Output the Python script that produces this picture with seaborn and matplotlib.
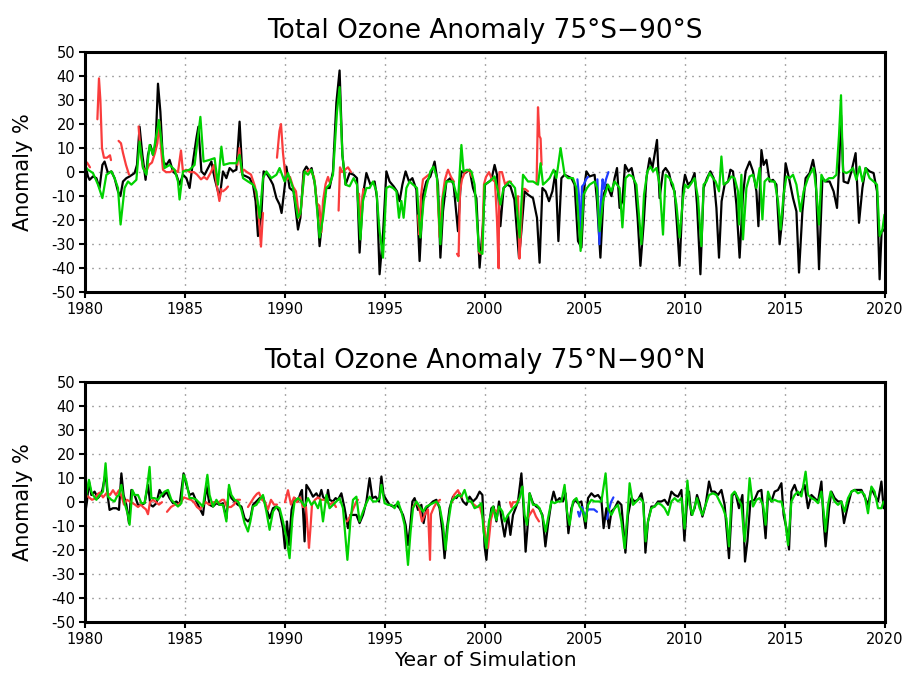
import matplotlib
matplotlib.use("Agg")
import matplotlib.pyplot as plt
import pandas as pd
import seaborn as sns

# ---------------- data (year, anomaly %) ----------------
# 75S-90S : model (black)
sh_black = [
    (1980.00, 3.7), (1980.15, -1.8), (1980.23, -3.2), (1980.40, -1.8), (1980.57, -2.5), (1980.73, -6.6),
    (1980.87, 3.0), (1980.98, 4.4), (1981.15, -0.4), (1981.32, 0.3), (1981.48, -2.5), (1981.65, -8.0),
    (1981.77, -10.0), (1981.90, -3.9), (1982.07, -2.5), (1982.23, -1.8), (1982.48, -0.4), (1982.60, 3.0),
    (1982.73, 18.9), (1982.87, 7.2), (1983.03, -3.2), (1983.15, 7.2), (1983.27, 11.3), (1983.40, 7.2),
    (1983.53, 11.3), (1983.65, 36.8), (1983.77, 25.1), (1983.90, 4.4), (1984.07, 3.0), (1984.23, 5.1),
    (1984.40, 0.3), (1984.57, -1.1), (1984.73, -5.2), (1984.90, -1.1), (1985.07, -2.5), (1985.23, -6.6),
    (1985.40, 4.4), (1985.57, 14.1), (1985.67, 18.9), (1985.82, 0.3), (1985.98, -1.1), (1986.15, 1.7),
    (1986.32, 4.4), (1986.48, -2.5), (1986.65, -8.0), (1986.73, -10.8), (1986.90, 0.3), (1987.07, -2.5),
    (1987.23, 1.7), (1987.40, 0.3), (1987.57, 1.0), (1987.73, 21.0), (1987.87, -1.1), (1988.07, -1.8),
    (1988.23, -2.5), (1988.40, -5.2), (1988.53, -12.1), (1988.65, -26.6), (1988.82, -17.7), (1988.93, 0.3),
    (1989.07, -0.4), (1989.23, -2.5), (1989.40, -5.2), (1989.57, -10.8), (1989.73, -13.5), (1989.83, -17.0),
    (1990.00, -5.0), (1990.07, 2.3), (1990.23, -6.6), (1990.43, -8.0), (1990.65, -23.9), (1990.77, -19.0),
    (1990.93, 0.3), (1991.07, 2.3), (1991.23, 0.3), (1991.33, 1.7), (1991.50, -5.2), (1991.63, -16.0),
    (1991.73, -30.8), (1991.87, -19.0), (1992.03, -6.6), (1992.23, -6.6), (1992.40, 0.3), (1992.57, 29.0),
    (1992.73, 42.3), (1992.87, 7.2), (1993.03, -5.2), (1993.23, -0.4), (1993.43, -1.1), (1993.60, -2.5),
    (1993.73, -33.5), (1993.90, -9.4), (1994.07, -0.4), (1994.27, -5.2), (1994.48, -3.9), (1994.60, -10.8),
    (1994.73, -42.5), (1994.90, -26.0), (1995.07, 0.3), (1995.23, -3.9), (1995.43, -5.9), (1995.60, -8.0),
    (1995.73, -12.1), (1995.87, -5.2), (1996.03, 0.3), (1996.20, -3.9), (1996.37, -2.5), (1996.57, -7.3),
    (1996.73, -37.0), (1996.90, -9.4), (1997.07, -3.9), (1997.27, -1.8), (1997.48, 4.4), (1997.65, -5.2),
    (1997.77, -35.6), (1997.90, -16.3), (1998.07, -3.9), (1998.27, -2.5), (1998.43, -5.2), (1998.65, -24.6),
    (1998.82, 0.3), (1999.00, -0.4), (1999.23, 1.0), (1999.40, -6.6), (1999.57, -10.8), (1999.73, -39.7),
    (1999.90, -21.8), (2000.00, -5.2), (2000.10, -4.6), (2000.32, -3.2), (2000.48, 3.0), (2000.60, -1.1),
    (2000.77, -22.5), (2000.93, -6.6), (2001.10, -5.2), (2001.27, -5.9), (2001.47, -11.4), (2001.70, -35.6),
    (2001.82, -24.6), (2001.98, -8.0), (2002.15, -9.4), (2002.40, -10.8), (2002.60, -19.0), (2002.73, -37.7),
    (2002.87, -6.6), (2003.03, -8.0), (2003.20, -12.1), (2003.37, -8.0), (2003.53, 0.3), (2003.67, -28.7),
    (2003.82, -2.5), (2003.98, -1.1), (2004.15, -1.8), (2004.32, -2.5), (2004.48, -5.2), (2004.65, -28.7),
    (2004.82, -31.4), (2004.98, -5.2), (2005.07, 0.3), (2005.23, -1.8), (2005.48, -1.1), (2005.60, -12.1),
    (2005.77, -35.6), (2005.93, -9.4), (2006.10, -5.2), (2006.32, -10.0), (2006.48, -2.5), (2006.60, 1.7),
    (2006.73, -14.9), (2006.87, -12.1), (2007.00, 3.0), (2007.17, 0.3), (2007.33, 1.7), (2007.50, -5.2),
    (2007.63, -19.0), (2007.77, -39.0), (2007.93, -21.8), (2008.07, -2.5), (2008.23, 5.8), (2008.37, 1.7),
    (2008.48, 7.2), (2008.60, 13.4), (2008.73, -10.8), (2008.90, 0.3), (2009.03, 1.7), (2009.20, -0.4),
    (2009.33, -5.2), (2009.48, -8.0), (2009.62, -24.6), (2009.73, -39.0), (2009.90, -6.6), (2010.00, -1.1),
    (2010.15, -5.2), (2010.32, -3.9), (2010.48, -0.4), (2010.60, -13.5), (2010.77, -42.5), (2010.93, -6.6),
    (2011.10, -2.5), (2011.27, 0.3), (2011.43, -2.5), (2011.57, -14.9), (2011.70, -35.6), (2011.83, -12.1),
    (2011.98, -5.2), (2012.15, -3.9), (2012.27, 1.0), (2012.40, 0.3), (2012.57, -13.5), (2012.73, -35.6),
    (2012.90, -9.4), (2013.03, 0.3), (2013.23, 4.4), (2013.40, 0.3), (2013.57, -8.0), (2013.67, -22.5),
    (2013.82, 9.2), (2013.93, 3.0), (2014.07, 5.1), (2014.23, -3.9), (2014.40, -3.2), (2014.57, -5.2),
    (2014.73, -30.0), (2014.87, -19.0), (2015.03, 3.7), (2015.20, -2.5), (2015.40, -10.8), (2015.57, -16.3),
    (2015.70, -41.8), (2015.87, -16.3), (2016.03, -2.5), (2016.23, -0.4), (2016.40, 5.1), (2016.53, -1.1),
    (2016.70, -40.4), (2016.87, -2.5), (2017.03, -3.9), (2017.23, -3.9), (2017.43, -8.0), (2017.60, -14.9),
    (2017.70, 1.7), (2017.80, 23.7), (2017.93, -3.9), (2018.15, -4.6), (2018.32, 0.3), (2018.53, 7.9),
    (2018.70, -21.1), (2018.87, -6.6), (2019.03, 1.7), (2019.23, 0.3), (2019.43, -0.4), (2019.60, -8.0),
    (2019.73, -44.6), (2019.83, -24.6), (2019.93, -23.9), (2020.00, -25.0),
]

# 75S-90S : second model (green)
sh_green = [
    (1980.00, 2.3), (1980.15, 1.0), (1980.40, -0.4), (1980.65, -5.2), (1980.87, -10.8), (1981.07, -1.1),
    (1981.32, 0.3), (1981.48, -2.5), (1981.65, -6.6), (1981.78, -21.8), (1981.98, -6.6), (1982.15, -3.9),
    (1982.32, -5.2), (1982.57, -3.2), (1982.73, 12.7), (1982.90, 1.7), (1983.07, -1.1), (1983.23, 11.3),
    (1983.40, 7.2), (1983.70, 21.7), (1983.82, 12.7), (1983.98, 1.7), (1984.23, 3.0), (1984.48, 1.0),
    (1984.65, -3.9), (1984.73, -11.4), (1984.90, 0.3), (1985.23, 1.0), (1985.48, 3.0), (1985.77, 23.0),
    (1985.93, 4.4), (1986.23, 5.1), (1986.48, 5.8), (1986.65, -5.2), (1986.82, 10.6), (1986.93, 3.0),
    (1987.23, 3.7), (1987.57, 3.7), (1987.73, 7.2), (1987.90, -2.5), (1988.15, -3.9), (1988.40, -5.2),
    (1988.57, -8.0), (1988.73, -19.0), (1988.90, -2.5), (1989.07, 0.3), (1989.32, -2.5), (1989.57, -1.1),
    (1989.73, 1.7), (1989.98, -3.9), (1990.15, -0.4), (1990.40, -6.6), (1990.65, -19.0), (1990.77, -17.0),
    (1990.98, 0.3), (1991.15, -1.1), (1991.32, 1.0), (1991.48, -3.9), (1991.73, -27.2), (1991.90, -19.0),
    (1992.07, -6.6), (1992.23, -5.2), (1992.40, -1.1), (1992.60, 25.1), (1992.73, 35.4), (1992.87, 7.2),
    (1993.03, -5.2), (1993.23, -5.9), (1993.43, -2.5), (1993.60, -5.2), (1993.77, -28.0), (1993.90, -12.0),
    (1994.07, -6.6), (1994.23, -6.6), (1994.40, -3.9), (1994.57, -8.0), (1994.73, -24.6), (1994.90, -35.6),
    (1995.07, -6.6), (1995.23, -5.9), (1995.40, -6.6), (1995.57, -8.0), (1995.70, -19.0), (1995.82, -12.0),
    (1995.93, -19.0), (1996.07, -6.6), (1996.23, -3.9), (1996.40, -5.2), (1996.60, -6.6), (1996.77, -27.2),
    (1996.93, -12.0), (1997.10, -5.2), (1997.27, 0.3), (1997.43, 2.3), (1997.60, -2.5), (1997.77, -30.0),
    (1997.90, -10.8), (1998.07, -3.9), (1998.23, -3.9), (1998.40, -3.9), (1998.65, -12.0), (1998.82, 11.3),
    (1998.93, 0.3), (1999.10, 1.0), (1999.32, 0.3), (1999.48, -5.2), (1999.70, -32.8), (1999.87, -34.0),
    (1999.98, -5.2), (2000.23, -3.9), (2000.48, -1.8), (2000.65, -8.0), (2000.77, -13.5), (2000.93, -6.6),
    (2001.23, -3.9), (2001.50, -6.6), (2001.73, -27.2), (2001.90, -1.1), (2002.15, -3.9), (2002.40, -3.9),
    (2002.65, -5.2), (2002.78, 3.7), (2002.90, -5.2), (2003.07, -3.9), (2003.23, -2.5), (2003.43, 1.0),
    (2003.57, -2.5), (2003.78, 10.0), (2003.98, -1.1), (2004.15, -2.5), (2004.40, -2.5), (2004.57, -6.6),
    (2004.78, -32.8), (2004.93, -9.4), (2005.10, -6.6), (2005.23, -5.2), (2005.48, -3.9), (2005.60, -6.6),
    (2005.73, -24.6), (2005.90, -12.0), (2006.15, -5.2), (2006.32, -8.0), (2006.48, -3.9), (2006.73, -6.6),
    (2006.87, -23.0), (2007.03, -2.5), (2007.20, -1.1), (2007.37, -1.8), (2007.57, -5.2), (2007.82, -30.0),
    (2007.95, -9.4), (2008.12, 0.3), (2008.27, 2.3), (2008.40, 0.3), (2008.57, 1.7), (2008.73, -5.2),
    (2008.90, -26.0), (2009.03, -1.1), (2009.23, -2.5), (2009.40, -5.2), (2009.57, -13.5), (2009.73, -27.2),
    (2009.90, -10.8), (2010.00, -5.2), (2010.15, -6.6), (2010.32, -4.6), (2010.48, -2.5), (2010.65, -10.8),
    (2010.82, -30.8), (2010.93, -5.2), (2011.07, -3.9), (2011.23, -0.4), (2011.40, -2.5), (2011.53, -3.9),
    (2011.70, -8.0), (2011.82, 6.5), (2011.93, -5.2), (2012.15, -3.9), (2012.32, -1.8), (2012.48, -2.5),
    (2012.65, -8.0), (2012.70, -21.8), (2012.82, -1.1), (2012.90, -28.0), (2013.07, -6.6), (2013.23, -1.8),
    (2013.40, -1.1), (2013.57, -6.6), (2013.73, 1.7), (2013.87, -19.7), (2013.98, -3.9), (2014.15, -2.5),
    (2014.32, -3.9), (2014.48, -3.9), (2014.65, -12.0), (2014.78, -23.9), (2014.93, -9.4), (2015.07, -1.8),
    (2015.23, -2.5), (2015.40, -1.1), (2015.57, -5.2), (2015.77, -16.3), (2015.93, -8.0), (2016.15, -2.5),
    (2016.32, 0.3), (2016.43, 1.7), (2016.57, -8.0), (2016.70, -21.8), (2016.82, -1.1), (2016.98, -3.9),
    (2017.20, -2.5), (2017.40, -2.5), (2017.57, -1.1), (2017.70, 15.4), (2017.80, 32.0), (2017.90, 0.3),
    (2018.07, -0.4), (2018.23, 0.3), (2018.40, 1.7), (2018.57, -3.2), (2018.73, 2.3), (2018.87, -3.9),
    (2019.03, 1.7), (2019.23, -2.5), (2019.43, -3.9), (2019.60, -5.2), (2019.73, -26.6), (2019.87, -23.9),
    (2019.97, -17.7),
]

# 75S-90S : observations (red, blue) - separate segments with gaps
sh_red = [
    [(1980.00, 3), (1980.10, 4), (1980.25, 2)],
    [(1980.62, 22), (1980.70, 39), (1980.77, 30), (1980.85, 10), (1980.95, 6), (1981.10, 6), (1981.25, 7),
     (1981.30, 5)],
    [(1981.68, 13), (1981.80, 12), (1981.90, 8), (1982.05, 3), (1982.20, -1)],
    [(1982.68, 19), (1982.78, 8), (1982.90, 2), (1983.05, 0), (1983.20, 3), (1983.35, 4), (1983.50, 8),
     (1983.62, 12), (1983.72, 21), (1983.80, 10), (1983.90, 1), (1984.05, 0), (1984.25, 0), (1984.45, 1),
     (1984.65, 0), (1984.80, 9), (1984.90, 0), (1985.05, 1), (1985.25, 0), (1985.45, 0), (1985.60, -1),
     (1985.80, -3), (1985.95, -2), (1986.10, -3), (1986.30, 0), (1986.45, 3), (1986.60, -6), (1986.72, -12),
     (1986.82, -7)],
    [(1986.90, -8), (1987.05, -7), (1987.15, -6)],
    [(1987.62, 3), (1987.72, 10), (1987.82, 0), (1987.95, 1), (1988.10, 0), (1988.30, -1), (1988.50, -6),
     (1988.65, -14), (1988.80, -31), (1988.90, -17)],
    [(1989.60, 6), (1989.72, 17), (1989.80, 20), (1989.90, 8), (1990.00, 0), (1990.10, -3), (1990.25, -2),
     (1990.40, -6), (1990.55, -8), (1990.70, -19), (1990.80, -15), (1990.95, -1), (1991.05, 0), (1991.25, 1),
     (1991.45, -2), (1991.60, -13), (1991.72, -14), (1991.82, -25), (1991.90, -12), (1992.03, -5),
     (1992.15, -2), (1992.22, -4)],
    [(1992.68, -16), (1992.75, 2), (1992.85, 0), (1993.00, 1), (1993.15, 2), (1993.30, 0)],
    [(1993.70, -9), (1993.77, -25), (1993.85, -12), (1993.92, -7)],
    [(1996.65, -18), (1996.72, -26), (1996.80, -10), (1996.90, -3), (1997.05, -2), (1997.20, -1)],
    [(1997.60, -3), (1997.73, -27), (1997.85, -12), (1998.00, -3), (1998.15, 1), (1998.30, -2),
     (1998.45, -4)],
    [(1998.60, -34), (1998.68, -35), (1998.75, -8), (1998.85, -3), (1999.00, 0), (1999.20, 1),
     (1999.35, -2)],
    [(1999.68, -33), (1999.75, -34), (1999.85, -33), (1999.95, -5), (2000.05, -2), (2000.20, 0),
     (2000.35, -3), (2000.50, -4), (2000.60, -20), (2000.68, -40), (2000.72, 0), (2000.85, 0), (2001.00, -5),
     (2001.15, -4), (2001.30, -4)],
    [(2001.65, -10), (2001.72, -36), (2001.78, -28), (2001.88, -7), (2002.00, -7), (2002.15, -8)],
    [(2002.58, -5), (2002.65, 27), (2002.72, 15), (2002.78, 14), (2002.83, 3)],
]
sh_blue = [
    [(2004.62, -3), (2004.70, -10), (2004.78, -30), (2004.85, -6), (2004.95, -5), (2005.05, -3),
     (2005.15, -2)],
    [(2005.62, -3), (2005.72, -30), (2005.80, -12), (2005.88, -3), (2005.95, -7), (2006.05, -3),
     (2006.17, 0)],
]

# 75N-90N : model (black)
nh_black = [
    (1980.00, -5.3), (1980.10, 0.3), (1980.20, 8.6), (1980.32, 3.0), (1980.48, 4.4), (1980.65, 1.7),
    (1980.77, 3.0), (1980.87, 5.1), (1981.03, 12.0), (1981.15, 1.7), (1981.23, -3.2), (1981.40, -2.5),
    (1981.57, -2.5), (1981.70, -3.2), (1981.82, 12.0), (1981.93, 3.0), (1982.07, -1.1), (1982.20, -8.7),
    (1982.32, 5.1), (1982.48, 3.0), (1982.65, -1.1), (1982.82, -1.1), (1982.98, -0.4), (1983.15, 7.2),
    (1983.27, -1.1), (1983.40, -1.8), (1983.57, -0.4), (1983.73, 5.1), (1983.90, 2.3), (1984.07, 4.4),
    (1984.23, 1.7), (1984.40, -0.4), (1984.57, 0.3), (1984.73, -1.1), (1984.93, 12.0), (1985.07, 7.2),
    (1985.23, 3.0), (1985.40, 3.7), (1985.57, 0.3), (1985.73, -2.5), (1985.90, -5.3), (1986.07, 7.0),
    (1986.23, -1.1), (1986.40, -1.8), (1986.57, -0.4), (1986.73, -1.1), (1986.90, -0.4), (1987.07, -6.7),
    (1987.20, 5.8), (1987.32, 1.7), (1987.48, 0.3), (1987.65, -1.1), (1987.82, -1.8), (1987.98, -6.7),
    (1988.15, -8.0), (1988.27, -6.7), (1988.40, -1.1), (1988.57, 0.3), (1988.73, 1.7), (1988.90, 2.3),
    (1989.07, -2.5), (1989.23, -6.7), (1989.40, -2.5), (1989.57, -1.8), (1989.73, -3.9), (1989.90, -10.8),
    (1990.00, -19.2), (1990.10, -8.0), (1990.20, -17.8), (1990.33, -3.2), (1990.48, 1.7), (1990.65, 0.3),
    (1990.77, 3.7), (1990.85, 5.1), (1990.98, -16.3), (1991.07, 7.2), (1991.23, 5.1), (1991.40, 2.3),
    (1991.57, 3.7), (1991.70, 1.7), (1991.82, 5.1), (1991.90, 2.3), (1992.07, 0.3), (1992.15, 5.1),
    (1992.23, 1.0), (1992.40, 0.3), (1992.53, 1.7), (1992.65, 1.0), (1992.82, 3.7), (1992.98, -2.5),
    (1993.15, -10.8), (1993.27, -5.3), (1993.40, -5.3), (1993.57, -5.3), (1993.73, -8.7), (1993.90, -5.3),
    (1994.07, 0.3), (1994.23, 10.0), (1994.37, 1.7), (1994.53, 2.3), (1994.70, 0.3), (1994.82, 10.7),
    (1994.93, 3.0), (1995.07, 1.0), (1995.23, -1.1), (1995.40, -1.8), (1995.57, -1.1), (1995.73, -2.5),
    (1995.90, -5.3), (1996.03, -9.4), (1996.15, -17.8), (1996.27, -9.4), (1996.37, 0.3), (1996.48, 1.7),
    (1996.65, -3.2), (1996.82, -1.1), (1996.93, -8.7), (1997.07, -2.5), (1997.23, -1.1), (1997.40, 0.3),
    (1997.57, 1.0), (1997.73, -2.5), (1997.87, -12.0), (1997.98, -23.3), (1998.10, -10.8), (1998.23, -2.5),
    (1998.40, 2.3), (1998.57, 1.7), (1998.73, 3.7), (1998.90, 0.3), (1999.07, -1.1), (1999.23, 2.3),
    (1999.40, 0.3), (1999.57, 1.7), (1999.73, 4.4), (1999.87, 3.0), (1999.98, -18.4), (2000.07, -24.0),
    (2000.20, -10.0), (2000.32, -2.5), (2000.43, -1.8), (2000.57, -8.0), (2000.70, 0.3), (2000.82, -6.7),
    (2000.98, -14.3), (2001.15, -5.3), (2001.27, -13.6), (2001.40, -5.3), (2001.53, -2.5), (2001.65, 0.3),
    (2001.82, 12.0), (2001.93, -2.5), (2002.03, -20.6), (2002.15, -8.0), (2002.23, 3.7), (2002.40, -0.4),
    (2002.57, -1.8), (2002.70, -2.5), (2002.87, -5.3), (2003.02, -18.4), (2003.15, -9.4), (2003.32, 0.3),
    (2003.43, 4.4), (2003.57, 0.3), (2003.73, 1.7), (2003.90, 0.3), (2004.03, 3.7), (2004.17, -12.9),
    (2004.32, -2.5), (2004.48, 1.0), (2004.65, -0.4), (2004.82, 0.3), (2005.03, -10.8), (2005.15, 1.7),
    (2005.32, 3.7), (2005.48, 2.3), (2005.65, 3.0), (2005.82, 1.0), (2005.93, -10.8), (2006.07, -2.5),
    (2006.20, -10.8), (2006.32, -3.9), (2006.48, -2.5), (2006.65, 0.3), (2006.82, -1.1), (2007.02, -21.0),
    (2007.15, -5.3), (2007.32, 1.7), (2007.48, 0.3), (2007.65, 1.0), (2007.82, 3.7), (2007.93, -1.1),
    (2008.02, -21.0), (2008.15, -8.0), (2008.32, -1.8), (2008.48, -1.8), (2008.65, 0.3), (2008.82, 0.3),
    (2008.98, 1.0), (2009.15, -1.1), (2009.32, 4.4), (2009.48, 3.0), (2009.65, 2.3), (2009.82, 5.1),
    (2009.97, -16.0), (2010.10, 0.3), (2010.20, 4.4), (2010.32, -5.3), (2010.48, -2.5), (2010.60, 3.0),
    (2010.73, -0.4), (2010.87, -6.0), (2011.03, -1.1), (2011.20, 8.6), (2011.32, 4.4), (2011.48, 4.4),
    (2011.65, 3.0), (2011.82, 5.1), (2011.98, -1.1), (2012.20, -23.3), (2012.37, 3.0), (2012.53, 3.7),
    (2012.70, -2.5), (2012.87, 3.0), (2013.00, -24.7), (2013.12, -16.3), (2013.27, 0.3), (2013.48, 1.0),
    (2013.65, 4.4), (2013.82, 5.1), (2014.03, -15.0), (2014.15, 3.0), (2014.32, 0.3), (2014.48, 4.4),
    (2014.65, 5.1), (2014.82, 7.9), (2014.93, -5.3), (2015.07, -10.8), (2015.20, -19.7), (2015.32, 4.4),
    (2015.48, 7.2), (2015.65, 3.0), (2015.82, 4.4), (2015.98, 7.2), (2016.15, -2.5), (2016.32, 3.0),
    (2016.48, 1.7), (2016.65, 0.3), (2016.82, 8.6), (2016.93, -8.0), (2017.03, -18.4), (2017.20, -2.5),
    (2017.32, 4.4), (2017.48, 1.7), (2017.65, 0.3), (2017.82, 0.3), (2017.95, -8.7), (2018.15, -1.1),
    (2018.32, 4.4), (2018.48, 5.1), (2018.65, 5.1), (2018.82, 5.1), (2018.98, 2.3), (2019.15, -1.1),
    (2019.32, 5.8), (2019.48, 3.0), (2019.65, 0.3), (2019.82, 8.6), (2019.93, -2.5),
]

# 75N-90N : second model (green)
nh_green = [
    (1980.00, -0.4), (1980.10, 4.4), (1980.20, 9.3), (1980.32, 4.4), (1980.40, 3.0), (1980.57, 1.0),
    (1980.73, 3.0), (1980.90, 4.4), (1981.03, 16.2), (1981.15, 2.4), (1981.32, 1.0), (1981.48, 0.3),
    (1981.60, 2.4), (1981.70, 3.0), (1981.82, 7.2), (1981.98, -0.4), (1982.15, -5.3), (1982.23, -9.4),
    (1982.37, 5.1), (1982.48, 3.0), (1982.65, 3.0), (1982.82, -0.4), (1982.98, -0.4), (1983.12, 7.2),
    (1983.23, 14.7), (1983.32, 1.7), (1983.48, 1.7), (1983.65, 1.0), (1983.82, 3.0), (1983.98, 4.4),
    (1984.15, 5.1), (1984.32, 1.0), (1984.48, -0.4), (1984.65, -1.8), (1984.82, -0.4), (1984.93, 11.4),
    (1985.07, 8.6), (1985.23, 1.7), (1985.40, 1.7), (1985.57, 1.0), (1985.73, -0.4), (1985.90, -1.8),
    (1986.12, 11.4), (1986.23, 3.0), (1986.40, -1.8), (1986.57, 1.0), (1986.73, -1.1), (1986.90, -1.1),
    (1987.07, -8.0), (1987.20, 7.2), (1987.32, 3.0), (1987.48, 1.0), (1987.65, 0.3), (1987.82, -3.2),
    (1987.98, -8.7), (1988.15, -12.2), (1988.27, -8.0), (1988.40, -1.8), (1988.57, -1.1), (1988.73, 1.0),
    (1988.90, 3.0), (1989.07, -3.9), (1989.23, -11.5), (1989.40, -3.9), (1989.57, -1.8), (1989.73, -2.5),
    (1989.90, -8.0), (1990.05, -14.0), (1990.23, -23.3), (1990.37, -6.7), (1990.48, 0.3), (1990.65, 1.7),
    (1990.82, 0.3), (1990.98, -1.8), (1991.15, 1.7), (1991.32, -1.1), (1991.48, 0.3), (1991.65, -2.5),
    (1991.77, 1.0), (1991.90, -8.0), (1992.07, 3.0), (1992.23, -2.5), (1992.40, -1.1), (1992.57, 0.3),
    (1992.73, 1.7), (1992.90, -2.5), (1993.12, -24.0), (1993.27, -8.0), (1993.40, 1.0), (1993.57, 2.3),
    (1993.73, -8.0), (1993.90, -3.9), (1994.07, -0.4), (1994.23, 2.3), (1994.40, 0.3), (1994.57, 0.3),
    (1994.73, 1.7), (1994.82, 7.2), (1994.98, -0.4), (1995.15, -1.1), (1995.32, -1.1), (1995.48, -2.5),
    (1995.65, 0.3), (1995.82, -3.9), (1995.98, -9.4), (1996.15, -26.1), (1996.28, -12.2), (1996.40, -2.5),
    (1996.57, 0.3), (1996.73, -1.8), (1996.90, -3.9), (1997.07, -1.8), (1997.23, -1.1), (1997.40, -0.4),
    (1997.57, 0.3), (1997.73, -1.8), (1997.90, -9.4), (1998.03, -19.7), (1998.15, -9.4), (1998.32, 0.3),
    (1998.48, 1.7), (1998.65, 3.0), (1998.82, 2.3), (1998.98, 5.1), (1999.15, 0.3), (1999.32, 0.3),
    (1999.48, -2.5), (1999.65, -1.8), (1999.82, -0.4), (1999.93, -12.2), (2000.07, -19.2), (2000.20, -8.0),
    (2000.40, -1.8), (2000.57, -7.4), (2000.70, -1.8), (2000.87, -3.9), (2000.98, -8.0), (2001.15, -5.3),
    (2001.40, -2.5), (2001.57, -1.1), (2001.73, 1.7), (2001.87, 6.5), (2001.98, -5.3), (2002.10, -9.4),
    (2002.23, 3.7), (2002.40, -1.1), (2002.57, -1.1), (2002.73, -2.5), (2002.90, -6.7), (2003.03, -12.2),
    (2003.15, -6.7), (2003.32, 0.3), (2003.48, -0.4), (2003.65, 0.3), (2003.82, 0.3), (2003.98, 7.2),
    (2004.10, -3.9), (2004.23, -9.4), (2004.40, 0.3), (2004.57, 1.7), (2004.73, -1.8), (2004.90, -3.9),
    (2005.03, -8.0), (2005.15, -1.1), (2005.32, 1.0), (2005.48, 0.3), (2005.65, 0.3), (2005.82, 0.3),
    (2006.03, 12.0), (2006.15, -2.5), (2006.32, -5.3), (2006.48, -2.5), (2006.65, -1.1), (2006.82, -8.0),
    (2006.98, -19.2), (2007.15, -2.5), (2007.23, 7.9), (2007.40, -1.1), (2007.57, 0.3), (2007.73, 1.7),
    (2007.90, 0.3), (2008.03, -16.3), (2008.15, -8.0), (2008.32, -2.5), (2008.48, -1.8), (2008.65, -0.4),
    (2008.82, -1.1), (2008.98, -2.5), (2009.15, -5.3), (2009.32, 0.3), (2009.48, 1.7), (2009.65, 0.3),
    (2009.82, 1.7), (2009.98, -11.0), (2010.12, 9.0), (2010.23, -1.1), (2010.37, -5.3), (2010.48, -1.8),
    (2010.60, 1.7), (2010.73, -2.5), (2010.87, -5.3), (2011.03, -1.1), (2011.20, 3.0), (2011.40, 3.7),
    (2011.57, 3.0), (2011.73, 0.3), (2011.90, -2.5), (2012.07, -6.7), (2012.20, -18.4), (2012.33, 3.0),
    (2012.48, 4.4), (2012.65, 1.7), (2012.82, -1.1), (2012.98, -16.3), (2013.12, -3.2), (2013.23, 10.0),
    (2013.40, -1.8), (2013.57, 1.0), (2013.73, 1.7), (2013.90, -1.1), (2014.03, -9.4), (2014.15, 4.4),
    (2014.32, 0.3), (2014.48, 1.0), (2014.65, 0.3), (2014.82, 0.3), (2014.98, -5.3), (2015.15, -17.8),
    (2015.32, 0.3), (2015.48, 3.0), (2015.65, 4.4), (2015.82, 2.4), (2016.03, 12.7), (2016.15, 3.0),
    (2016.32, 1.7), (2016.48, 1.0), (2016.65, -0.4), (2016.82, 4.4), (2016.93, -3.9), (2017.02, -12.2),
    (2017.15, -1.1), (2017.28, 4.4), (2017.48, 0.3), (2017.65, -1.1), (2017.82, 0.3), (2017.98, -3.9),
    (2018.15, 1.7), (2018.32, 4.4), (2018.48, 5.1), (2018.65, 3.7), (2018.82, 4.4), (2018.98, 3.0),
    (2019.15, -4.6), (2019.32, 6.5), (2019.48, 4.4), (2019.65, -2.5), (2019.82, -2.5), (2019.93, 0.3),
]

# 75N-90N : observations (red, blue)
nh_red = [
    [(1980.05, 3), (1980.20, 2), (1980.35, 1), (1980.50, 1.5), (1980.65, 3.5), (1980.75, 4), (1980.90, 2),
     (1981.10, 4), (1981.25, 3), (1981.40, 5), (1981.55, 3), (1981.70, 5), (1981.85, 2), (1981.95, -1),
     (1982.10, 1), (1982.30, 0), (1982.50, -1), (1982.65, -2), (1982.80, -1), (1982.90, -2), (1983.05, -3),
     (1983.15, -5), (1983.25, 0), (1983.40, 1), (1983.55, 0), (1983.70, -1), (1983.85, 0)],
    [(1984.10, -4), (1984.30, -2), (1984.50, -1), (1984.65, -1), (1984.80, 0), (1984.95, 2), (1985.10, 1.5),
     (1985.30, 1), (1985.45, 0), (1985.60, -2), (1985.75, -3), (1985.90, -1), (1986.05, 0), (1986.20, -1),
     (1986.40, 0), (1986.55, 0), (1986.70, 0), (1986.85, 1), (1986.95, 1), (1987.10, -2), (1987.30, -2),
     (1987.45, -1), (1987.60, 1), (1987.75, 1)],
    [(1988.15, -2), (1988.30, 0), (1988.45, 2), (1988.60, 3.5), (1988.70, 4), (1988.85, 1), (1989.00, 0),
     (1989.15, -3), (1989.30, 1), (1989.45, -1), (1989.60, -1)],
    [(1990.00, 0), (1990.15, 5), (1990.30, -1), (1990.45, 2), (1990.60, 0), (1990.75, 2), (1990.90, -2),
     (1991.05, -2), (1991.15, -13), (1991.20, -19), (1991.28, -10), (1991.35, -1), (1991.50, 1),
     (1991.65, 2), (1991.80, 1), (1992.00, 1), (1992.25, -1), (1992.40, 0), (1992.55, -2)],
    [(1993.10, -8), (1993.25, -6), (1993.40, -3), (1993.55, 0), (1993.65, 1)],
    [(1996.40, -2), (1996.55, 0), (1996.70, -2), (1996.85, -8), (1997.00, -5), (1997.15, -3), (1997.25, -24),
     (1997.30, -5), (1997.45, -2), (1997.60, 0), (1997.75, 1)],
    [(1998.35, 0), (1998.45, 3), (1998.55, 4), (1998.65, 5), (1998.75, 3), (1998.85, 2)],
    [(1999.30, 0), (1999.45, -1), (1999.60, -2), (1999.75, -2), (1999.90, -7), (2000.05, -15),
     (2000.15, -19), (2000.30, -7), (2000.45, -3), (2000.60, -4), (2000.70, -2)],
    [(2001.25, 0), (2001.32, -2), (2001.40, 0), (2001.55, 0), (2001.70, 1)],
    [(2002.10, -7), (2002.25, -5), (2002.40, -3), (2002.55, -6), (2002.70, -8)],
]
nh_blue = [
    [(2004.65, -4), (2004.72, -6), (2004.85, -2), (2005.00, -6), (2005.15, -3), (2005.30, -3),
     (2005.45, -3), (2005.60, -4)],
    [(2006.10, -7), (2006.20, -3), (2006.30, 0), (2006.42, 2)],
]

titles = ["Total Ozone Anomaly 75\u00b0S\u221290\u00b0S", "Total Ozone Anomaly 75\u00b0N\u221290\u00b0N"]
year_ticks = [1980, 1985, 1990, 1995, 2000, 2005, 2010, 2015, 2020]
anom_ticks = [-50, -40, -30, -20, -10, 0, 10, 20, 30, 40, 50]

C_BLACK = "#000000"
C_GREEN = "#00d200"
C_RED = "#fa3c3c"
C_BLUE = "#1e3cff"


def series_frame(pairs):
    return pd.DataFrame(pairs, columns=["year", "anom"])


def segment_frame(segments):
    rows = [(i, y, v) for i, seg in enumerate(segments) for (y, v) in seg]
    return pd.DataFrame(rows, columns=["seg", "year", "anom"])


sns.set_theme(style="white")
plt.rcParams["font.family"] = ["DejaVu Sans"]

fig = plt.figure(figsize=(9.04, 6.75), dpi=100)
ax_top = fig.add_axes([0.094, 0.567, 0.885, 0.356])
ax_bot = fig.add_axes([0.094, 0.078, 0.885, 0.356])

panels = [
    (ax_top, sh_black, sh_green, sh_red, sh_blue, titles[0]),
    (ax_bot, nh_black, nh_green, nh_red, nh_blue, titles[1]),
]

for ax, blk, grn, red, blu, title in panels:
    sns.lineplot(data=series_frame(blk), x="year", y="anom", color=C_BLACK, lw=1.6,
                 estimator=None, sort=False, ax=ax, zorder=3)
    sns.lineplot(data=segment_frame(red), x="year", y="anom", units="seg", color=C_RED, lw=1.6,
                 estimator=None, sort=False, ax=ax, zorder=4)
    sns.lineplot(data=segment_frame(blu), x="year", y="anom", units="seg", color=C_BLUE, lw=1.6,
                 estimator=None, sort=False, ax=ax, zorder=4)
    sns.lineplot(data=series_frame(grn), x="year", y="anom", color=C_GREEN, lw=1.6,
                 estimator=None, sort=False, ax=ax, zorder=5)

    ax.set_xlim(1980, 2020)
    ax.set_ylim(-50, 50)
    ax.set_xticks(year_ticks)
    ax.set_yticks(anom_ticks)
    ax.set_xticklabels([str(t) for t in year_ticks], fontsize=10.5)
    ax.set_yticklabels([str(t) for t in anom_ticks], fontsize=10.5)
    ax.grid(True, color="#999999", linestyle=(0, (1.2, 3.6)), linewidth=1.0, zorder=0)
    ax.set_axisbelow(True)
    for sp in ax.spines.values():
        sp.set_visible(True)
        sp.set_color("black")
        sp.set_linewidth(2.2)
        sp.set_zorder(10)
    ax.tick_params(axis="both", direction="out", length=4, width=1.5, color="black",
                   labelcolor="black", pad=3, bottom=True, left=True)
    ax.set_title(title, fontsize=19, pad=10, color="black")
    ax.set_ylabel("Anomaly %", fontsize=15, labelpad=13, color="black")
    ax.set_xlabel("")

ax_bot.set_xlabel("Year of Simulation", fontsize=14.5, labelpad=3, color="black")

fig.savefig("out.png", dpi=100, facecolor="white")
